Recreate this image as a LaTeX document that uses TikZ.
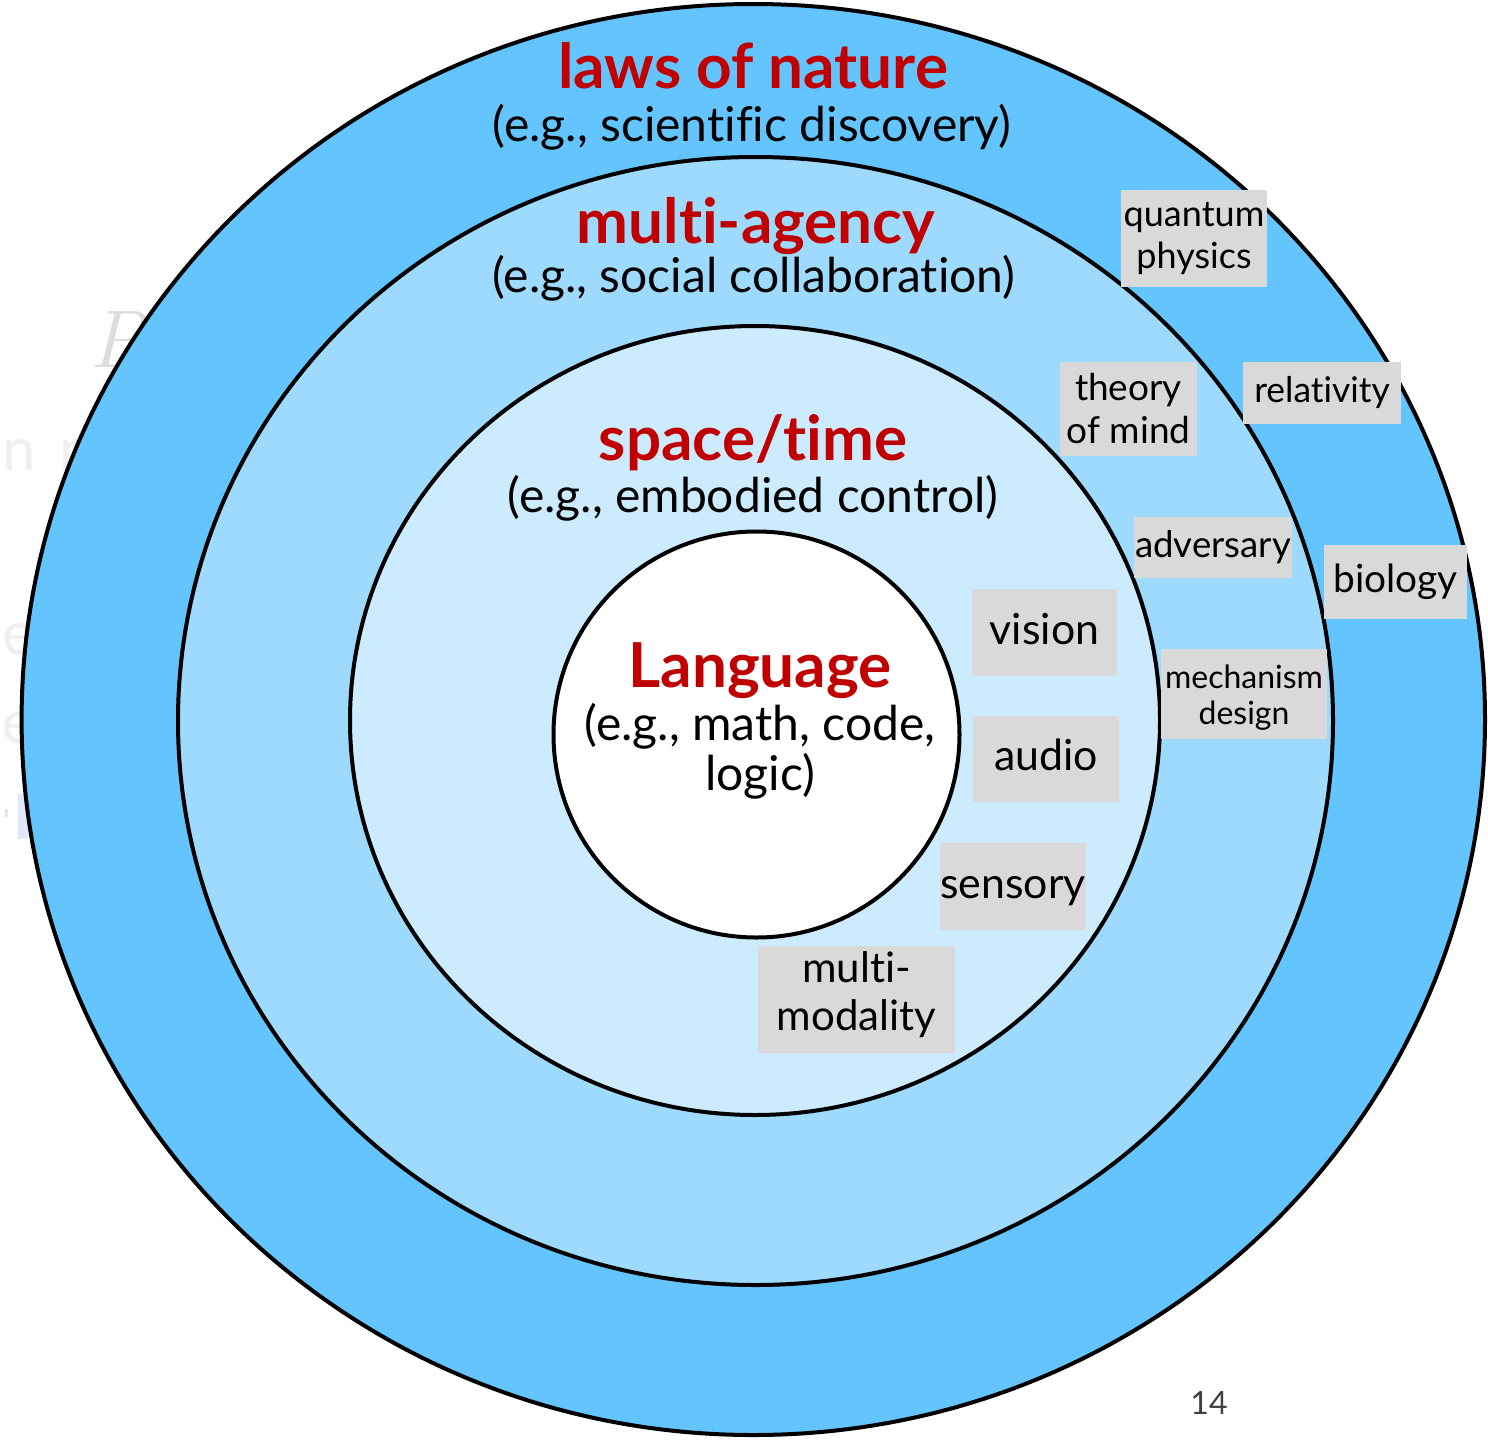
\documentclass[tikz,border=0pt]{standalone}
\usepackage{fontspec}
\setmainfont[Ligatures=NoCommon]{Lato}
\newfontfamily\ghostserif{Latin Modern Roman}

\definecolor{ringA}{HTML}{64C4FD}
\definecolor{ringB}{HTML}{9DDAFD}
\definecolor{ringC}{HTML}{CCEBFE}
\definecolor{headred}{HTML}{C00000}
\definecolor{tagfill}{HTML}{D9D9D9}
\definecolor{pagegray}{HTML}{404040}
\definecolor{ghostgray}{HTML}{DCDCDC}
\definecolor{ghostlight}{HTML}{EFEFEF}
\definecolor{ghostblue}{HTML}{E2E6FA}

\begin{document}
\begin{tikzpicture}[x=0.5pt,y=-0.5pt,
  ring/.style={draw=black,line width=2pt},
  head/.style={anchor=base,inner sep=0,text=headred,
    font=\fontsize{31}{37}\selectfont\bfseries},
  sub/.style={anchor=base,inner sep=0,text=black,
    font=\fontsize{24}{26}\selectfont},
  tag/.style={fill=tagfill,inner sep=0,align=center,text=black},
  ghost/.style={anchor=base west,inner sep=0},
]
\useasboundingbox (0,0) rectangle (1488,1440);
\clip (0,0) rectangle (1488,1440);
\fill[white] (0,0) rectangle (1488,1440);

% faint remnants of text lying under the rings
\node[ghost,text=ghostgray,font=\ghostserif\itshape\fontsize{41}{41}\selectfont] (ghP) at (89,367) {P};
\node[ghost,text=ghostlight,font=\fontsize{30}{30}\selectfont] (ghN) at (2,470) {n\hspace{12pt}r};
\node[ghost,text=ghostlight,font=\fontsize{30}{30}\selectfont] (ghE1) at (2,654) {e};
\node[ghost,text=ghostlight,font=\fontsize{30}{30}\selectfont] (ghE2) at (2,743) {e};
\fill[ghostblue] (18,794) rectangle (28,839);
\fill[ghostblue] (5,809) rectangle (8,817);

% nested rings, outermost first
\path[ring,fill=ringA] (753.3,719.5) ellipse [x radius=731.7, y radius=715.5];
\path[ring,fill=ringB] (755.5,721)   ellipse [x radius=577.5, y radius=564];
\path[ring,fill=ringC] (755,720.5)   ellipse [x radius=405,   y radius=394.5];
\path[ring,fill=white] (756.5,734.5) circle [radius=203];

% ring titles
\node[head] (lawsT)  at (753,88)  {laws of nature};
\node[sub]  (lawsS)  at (752,141) {(e.g., scientific discovery)};
\node[head] (agentT) at (756,243) {multi-agency};
\node[sub]  (agentS) at (754,292) {(e.g., social collaboration)};
\node[head] (spaceT) at (753,460) {space/time};
\node[sub]  (spaceS) at (753,512) {(e.g., embodied control)};
\node[head] (langT)  at (760,687) {Language};
\node[sub]  (langS1) at (760,740) {(e.g., math, code,};
\node[sub]  (langS2) at (760,790) {logic)};

% example tags (a two-line tag sits on its last line, so its text height
% spans both lines)
\node[tag,minimum width=73pt,minimum height=48.5pt,text height=33.1pt,text depth=3.6pt,
  font=\fontsize{18}{21}\selectfont] (quantum) at (1194,238.5) {quantum\\physics};
\node[tag,minimum width=79pt,minimum height=31pt,text height=13.3pt,text depth=3.5pt,
  font=\fontsize{17.7}{21}\selectfont] (relativity) at (1322,393) {relativity};
\node[tag,minimum width=68.5pt,minimum height=47pt,text height=37.7pt,text depth=3.7pt,
  font=\fontsize{18.5}{21.5}\selectfont] (theory) at (1128.5,409) {theory\\of mind};
\node[tag,minimum width=79pt,minimum height=30.5pt,text height=13.7pt,text depth=3.7pt,
  font=\fontsize{18.3}{21}\selectfont] (adversary) at (1213,547.5) {adversary};
\node[tag,minimum width=71.5pt,minimum height=37pt,text height=14.6pt,text depth=3.9pt,
  font=\fontsize{19.4}{22}\selectfont] (biology) at (1395.5,582) {biology};
\node[tag,minimum width=83pt,minimum height=45pt,text height=33.2pt,text depth=3.2pt,
  font=\fontsize{16}{18}\selectfont] (mechanism) at (1244,694) {mechanism\\design};
\node[tag,minimum width=72.5pt,minimum height=43.5pt,text height=16.1pt,text depth=4.3pt,
  font=\fontsize{21.4}{24}\selectfont] (vision) at (1044.5,632.5) {vision};
\node[tag,minimum width=73pt,minimum height=43pt,text height=16.1pt,text depth=4.3pt,
  font=\fontsize{21.4}{24}\selectfont] (audio) at (1046,759) {audio};
\node[tag,minimum width=72pt,minimum height=43.5pt,text height=16.1pt,text depth=4.3pt,
  font=\fontsize{21.4}{24}\selectfont] (sensory) at (1013,886.5) {sensory};
\node[tag,minimum width=98.5pt,minimum height=53.5pt,text height=34.7pt,text depth=4.2pt,
  font=\fontsize{21}{24}\selectfont] (multimod) at (856.5,999.5) {multi-\\modality};

% slide number
\node[anchor=base,inner sep=0,text=pagegray,font=\fontsize{16}{16}\selectfont]
  (pagenum) at (1209,1414) {14};
\end{tikzpicture}
\end{document}
